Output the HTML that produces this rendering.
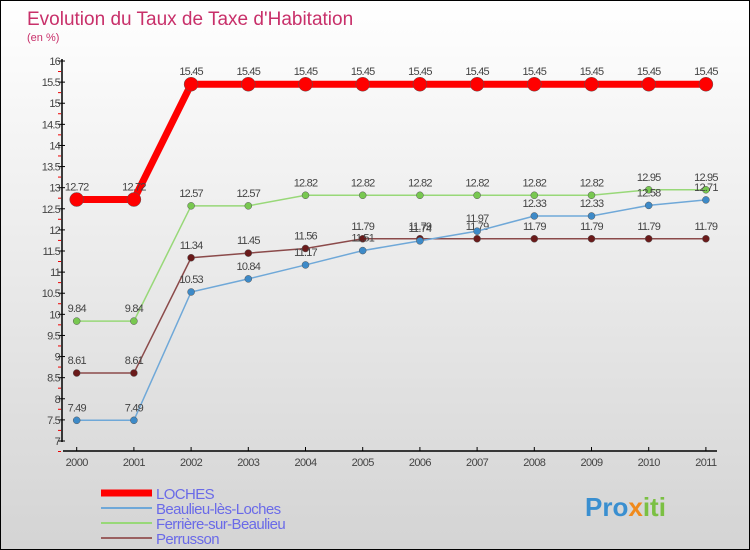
<!DOCTYPE html>
<html><head><meta charset="utf-8"><style>
body{margin:0}
#c{width:750px;height:550px;position:relative;box-sizing:border-box;border:1px solid #000;background:linear-gradient(#fff,#d4d4d4);font-family:"Liberation Sans",sans-serif;overflow:hidden}
</style></head><body>
<div id="c">
<svg id="s" width="750" height="550" style="position:absolute;left:0;top:0">
<text x="26" y="24" font-size="19" fill="#c8306a">Evolution du Taux de Taxe d'Habitation</text>
<text x="26" y="40" font-size="11" fill="#c8306a">(en %)</text>
<g id="ax"></g><g id="series"></g><g id="legend"></g>
<text x="584" y="515" font-size="26" font-weight="bold" fill="#3a8fd0">Pro<tspan fill="#f08a1c">x</tspan><tspan fill="#7bc043">iti</tspan></text>
</svg>
</div>
<script>
const years=["2000","2001","2002","2003","2004","2005","2006","2007","2008","2009","2010","2011"];
const loches=[12.72,12.72,15.45,15.45,15.45,15.45,15.45,15.45,15.45,15.45,15.45,15.45];
const beaulieu=[7.49,7.49,10.53,10.84,11.17,11.51,11.74,11.97,12.33,12.33,12.58,12.71];
const ferriere=[9.84,9.84,12.57,12.57,12.82,12.82,12.82,12.82,12.82,12.82,12.95,12.95];
const perrusson=[8.61,8.61,11.34,11.45,11.56,11.79,11.79,11.79,11.79,11.79,11.79,11.79];
const yTicks=[7,7.5,8,8.5,9,9.5,10,10.5,11,11.5,12,12.5,13,13.5,14,14.5,15,15.5,16];
const NS="http://www.w3.org/2000/svg";
const X=i=>75.7+i*57.2, Y=v=>440-(v-7)*42.22;
function mk(t,a,p){const e=document.createElementNS(NS,t);for(const k in a)e.setAttribute(k,a[k]);p.appendChild(e);return e;}
const ax=document.getElementById('ax');
let l=mk('line',{x1:61,y1:58,x2:61,y2:441,stroke:'#000','stroke-width':1.5},ax);

l=mk('line',{x1:62,y1:450,x2:716,y2:450,stroke:'#000','stroke-width':1.5},ax);

yTicks.forEach(v=>{const y=Y(v);
 mk('line',{x1:57,x2:64,y1:y,y2:y,stroke:'#000'},ax);
 mk('line',{x1:57,x2:60,y1:y+10.5,y2:y+10.5,stroke:'#e00'},ax);
 const t=mk('text',{x:59,y:y+4,'font-size':11,fill:'#444','text-anchor':'end','letter-spacing':'-0.8'},ax);t.textContent=v;
 });
years.forEach((yr,i)=>{const x=X(i);mk('line',{x1:x,x2:x,y1:446,y2:450,stroke:'#000'},ax);
 const t=mk('text',{x:x,y:465,'font-size':11,fill:'#444','text-anchor':'middle','letter-spacing':'-0.6'},ax);t.textContent=yr;
 });
const sg=document.getElementById('series');
function series(d,col,dot,w,r,name,lab){const g=mk('g',{},sg);
 
 const p=mk('polyline',{points:d.map((v,i)=>X(i)+','+Y(v)).join(' '),fill:'none',stroke:col,'stroke-width':w},g);
 
 d.forEach((v,i)=>{const c=mk('circle',{cx:X(i),cy:Y(v),r:r,fill:dot,stroke:'#555','stroke-width':0.5},g);
  
  const t=mk('text',{x:X(i),y:Y(v)-9,'font-size':11,fill:'#444','text-anchor':'middle','letter-spacing':'-0.8'},g);t.textContent=v;
  });}
series(perrusson,'#8b4a4a','#6a1a1a',1.5,3.5,'perrusson');
series(ferriere,'#98d878','#78c850',1.5,3.5,'ferriere');
series(beaulieu,'#6fa8d8','#3d8ac8',1.5,3.5,'beaulieu');
series(loches,'#f00','#f00',7,7,'loches');
const lg=document.getElementById('legend');
const ln=[["LOCHES","#f00",7],["Beaulieu-lès-Loches","#6fa8d8",2],["Ferrière-sur-Beaulieu","#98d878",2],["Perrusson","#9a6060",2]];
ln.forEach((e,i)=>{const y=492+i*15;
 const r=mk('line',{x1:100,x2:151,y1:y,y2:y,stroke:e[1],'stroke-width':e[2]},lg);
 
 const t=mk('text',{x:155,y:y+6,'font-size':15,fill:'#6a6ae8','letter-spacing':'-0.6'},lg);t.textContent=e[0];
 });
</script>
</body></html>
